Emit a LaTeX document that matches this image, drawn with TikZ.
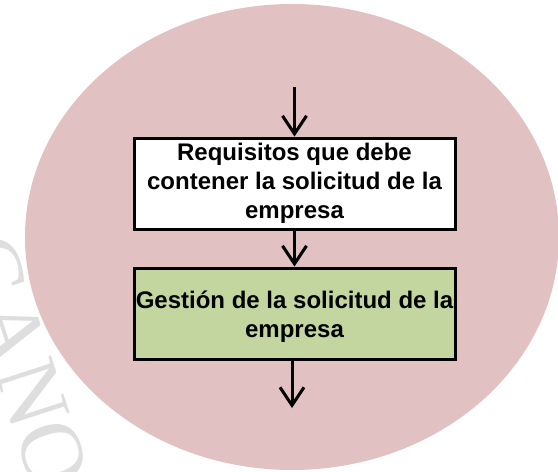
\documentclass[tikz,border=0pt]{standalone}
\usepackage{fontspec}
\setmainfont{Liberation Sans}
\newfontfamily\wmfont{Liberation Serif}
\usetikzlibrary{arrows.meta}
\definecolor{ovalpink}{RGB}{226,193,195}
\definecolor{boxgreen}{RGB}{196,214,160}
\definecolor{wmgray}{RGB}{222,222,222}
\newcommand{\boxtext}[2]{\raisebox{#1}[\height][\depth]{\parbox[c]{321pt}{\centering #2}}}
\tikzset{
  stepbox/.style={draw=black, line width=3pt, minimum width=321pt, minimum height=91pt,
    font=\fontsize{24pt}{29pt}\selectfont\bfseries, inner sep=0pt},
  flow/.style={draw=black, line width=3pt, -{Straight Barb[length=18pt,width=24pt]}}
}
\begin{document}
\begin{tikzpicture}[x=1pt,y=-1pt]
\useasboundingbox (0,0) rectangle (558,472);
% watermark
\node[text=wmgray, font=\wmfont\fontsize{90pt}{90pt}\selectfont, rotate=-72, anchor=center] (wm) at (22,362) {GANO};
% oval
\fill[ovalpink] (292,237) ellipse [x radius=267, y radius=233];
% boxes
\node[stepbox, fill=white] (req) at (294.5,183.5)
  {\boxtext{0pt}{Requisitos que debe\\ contener la solicitud de la\\ empresa}};
\node[stepbox, fill=boxgreen] (ges) at (294.5,313.5)
  {\boxtext{-3pt}{Gestión de la solicitud de la\\ empresa}};
\coordinate (in) at (294.5,87);
\coordinate (out) at (292,408);
\draw[flow] (in) -- (req.north);
\draw[flow] (req.south) -- (ges.north);
\draw[flow] (ges.south -| out) -- (out);
\end{tikzpicture}
\end{document}
